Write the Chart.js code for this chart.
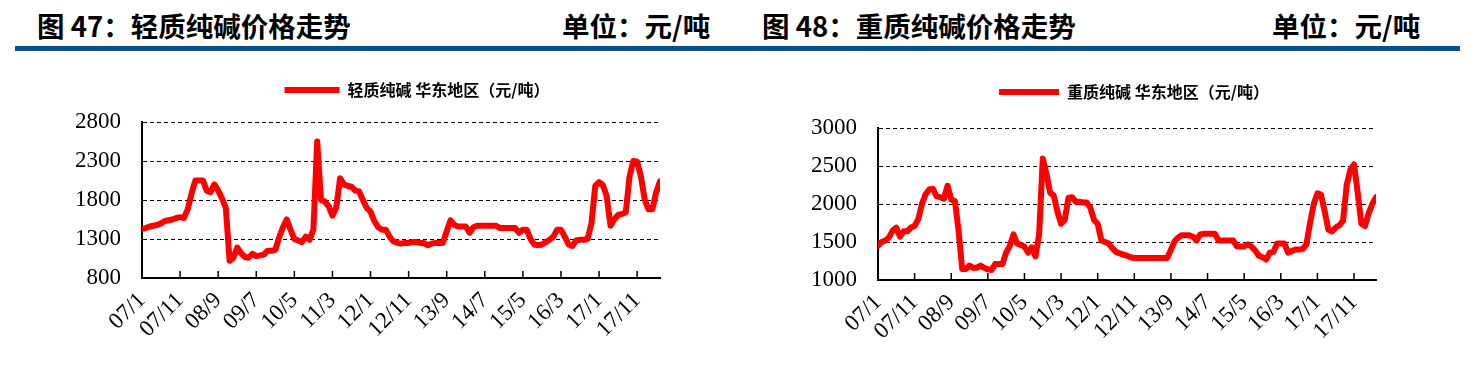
<!DOCTYPE html>
<html><head><meta charset="utf-8">
<script src="https://cdn.jsdelivr.net/npm/chart.js@4/dist/chart.umd.min.js"></script>
<style>
html,body{margin:0;padding:0;background:#fff;width:1479px;height:365px;overflow:hidden;position:relative;}
.h{position:absolute;font-family:"Noto Sans CJK SC";font-weight:bold;font-size:27.5px;line-height:1;color:#000;white-space:nowrap;top:12px}
.bar{position:absolute;top:46px;height:5px;background:#0b4f8a}
canvas{position:absolute;top:0}
</style></head><body>
<div class="h" style="left:37px">图 47：轻质纯碱价格走势</div>
<div class="h" style="left:562px">单位：元/吨</div>
<div class="h" style="left:762px">图 48：重质纯碱价格走势</div>
<div class="h" style="left:1272px">单位：元/吨</div>
<div class="bar" style="left:15px;width:1445px"></div>
<canvas id="c1" width="834" height="365" style="left:0"></canvas>
<canvas id="c2" width="788" height="365" style="left:740px"></canvas>
<script>
// x = months since 2007/1 (monthly readings)
const tickLabels = ['07/1','07/11','08/9','09/7','10/5','11/3','12/1','12/11','13/9','14/7','15/5','16/3','17/1','17/11'];
const lightLabel = '轻质纯碱 华东地区（元/吨）';
const denseLabel = '重质纯碱 华东地区（元/吨）';
const lightAsh = [
 1430,1440,1460,1470,1480,1500,1530,1540,1550,1570,
 1580,1570,1680,1880,2050,2050,2050,1920,1900,2000,
 1920,1820,1700,1020,1060,1190,1120,1070,1060,1110,
 1080,1090,1100,1150,1150,1160,1320,1450,1550,1420,
 1300,1280,1260,1330,1290,1420,2550,1800,1780,1720,
 1600,1700,2080,2000,1980,1970,1920,1910,1800,1700,
 1650,1530,1450,1420,1420,1330,1270,1250,1240,1250,
 1250,1260,1260,1250,1250,1220,1240,1250,1250,1250,
 1400,1540,1480,1460,1460,1460,1380,1450,1470,1470,
 1470,1470,1470,1470,1440,1440,1440,1440,1440,1380,
 1420,1420,1300,1230,1220,1230,1260,1290,1330,1420,
 1420,1330,1230,1210,1280,1290,1290,1300,1500,1980,
 2030,1990,1850,1470,1550,1610,1620,1640,2100,2300,
 2290,2100,1800,1680,1680,1900,2040
];
const denseAsh = [
 1450,1500,1520,1560,1650,1690,1570,1640,1640,1690,
 1710,1800,2000,2130,2190,2200,2100,2090,2070,2240,
 2060,2040,1650,1145,1145,1190,1160,1160,1190,1160,
 1140,1130,1210,1210,1210,1360,1450,1600,1480,1460,
 1440,1360,1430,1310,1600,2600,2400,2150,2110,1900,
 1740,1790,2080,2090,2030,2030,2020,2020,1950,1790,
 1740,1520,1500,1480,1420,1370,1350,1335,1320,1300,
 1290,1290,1290,1290,1290,1290,1290,1290,1290,1290,
 1400,1510,1560,1590,1590,1590,1570,1520,1600,1610,
 1610,1610,1610,1520,1520,1520,1520,1520,1440,1440,
 1440,1470,1440,1390,1320,1300,1270,1360,1370,1480,
 1480,1480,1360,1380,1400,1400,1410,1470,1750,2000,
 2140,2120,1900,1660,1640,1690,1720,1780,2250,2450,
 2520,2150,1740,1710,1880,2000,2090
];

const tickFont = {family:'"Liberation Serif", serif', size:23};

// tick marks pointing up into the plot, placed at the x scale's ticks
const innerTicks = {
  id:'innerTicks',
  afterDraw(chart){
    const s = chart.scales.x, ctx = chart.ctx;
    ctx.save(); ctx.strokeStyle = '#000'; ctx.lineWidth = 1.5;
    s.ticks.forEach(t => {
      const px = s.getPixelForValue(t.value);
      ctx.beginPath(); ctx.moveTo(px, s.top); ctx.lineTo(px, s.top - 7); ctx.stroke();
    });
    ctx.restore();
  }
};

function build(id, label, values, yMin, yMax, g) {
  return new Chart(document.getElementById(id), {
    type:'line',
    data:{datasets:[{
      label,
      data: values.map((v,i)=>({x:i,y:v})),
      borderColor:'#ff0000', backgroundColor:'#ff0000',
      borderWidth:6, pointRadius:0, tension:0, fill:false,
      borderJoinStyle:'round', borderCapStyle:'round'
    }]},
    plugins:[innerTicks],
    options:{
      responsive:false, animation:false, devicePixelRatio:1,
      layout:{padding:{top:g.padTop,left:0,right:0,bottom:0}},
      plugins:{
        legend:{position:'top', labels:{usePointStyle:true, pointStyle:'line', pointStyleWidth:g.legW,
          color:'#000', padding:10, font:{family:'"Noto Sans CJK SC"', size:16, weight:'bold'}}},
        tooltip:{enabled:false}
      },
      scales:{
        x:{type:'linear', position:'bottom', min:0, max:values.length-1,
          afterBuildTicks:s=>{ s.ticks = tickLabels.map((_,k)=>({value:k*10})); },
          afterFit:s=>{ s.height = g.xH; },
          grid:{drawOnChartArea:false, drawTicks:false},
          border:{color:'#000', width:2},
          ticks:{autoSkip:false, minRotation:45, maxRotation:45, padding:9,
            color:'#000', font:tickFont, callback:v=>tickLabels[Math.round(v/10)]}
        },
        xt:{type:'linear', position:'top', display:true, grid:{display:false}, border:{display:false},
          ticks:{display:false}, afterFit:s=>{ s.height = g.gap; }},
        y:{type:'linear', position:'left', min:yMin, max:yMax,
          afterFit:s=>{ s.width = g.yW; },
          grid:{color:'#000', lineWidth:1, drawTicks:false},
          border:{color:'#000', width:2, dash:[4,3]},
          ticks:{stepSize:500, padding:21, color:'#000', font:tickFont, callback:v=>String(v)}
        },
        y2:{type:'linear', position:'right', display:true, grid:{display:false}, border:{display:false},
          ticks:{display:false}, afterFit:s=>{ s.width = g.y2W; }}
      }
    }
  });
}

build('c1', lightLabel, lightAsh, 800, 2800, {padTop:72, gap:14, xH:87, yW:142, y2W:174, legW:55});
build('c2', denseLabel, denseAsh, 1000, 3000, {padTop:74, gap:18, xH:85, yW:138, y2W:152, legW:60});
</script>
</body></html>
